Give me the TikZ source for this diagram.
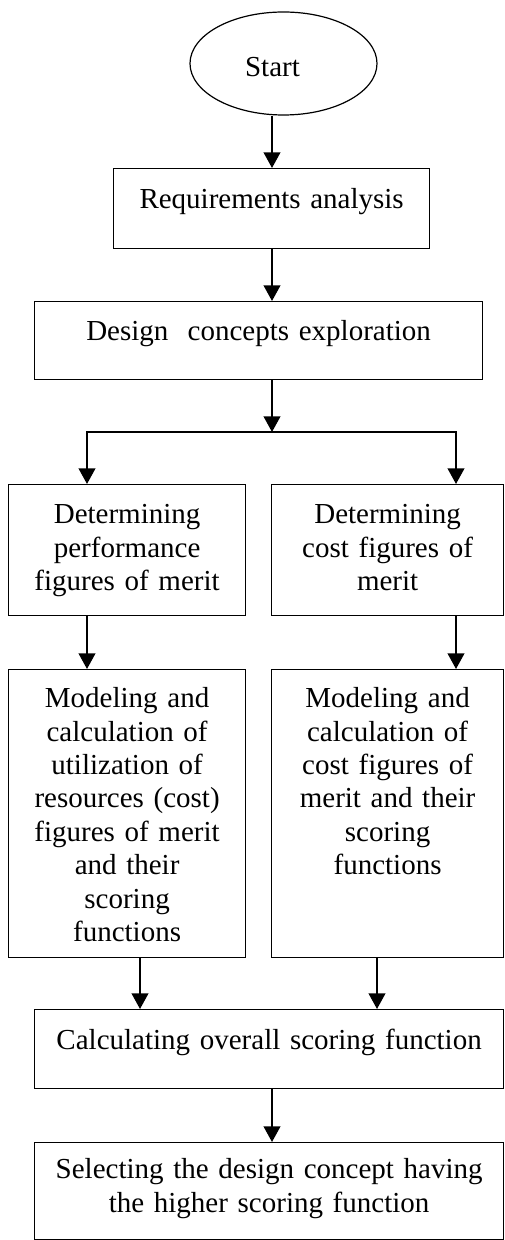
\documentclass[tikz,border=0pt]{standalone}
\usepackage{fontspec}
\setmainfont{Liberation Serif}
\usetikzlibrary{shapes.geometric, arrows.meta}

\begin{document}
\begin{tikzpicture}[x=0.5pt, y=-0.5pt, >={Triangle[width=8.3pt,length=7.8pt]}, font=\fontsize{14.5}{16.7}\selectfont]
    \tikzstyle{box}=[draw, line width=0.6pt, anchor=north west, align=center, inner sep=0pt]
    \tikzstyle{arr}=[->, line width=1pt]

    \path[use as bounding box, clip] (0,0) rectangle (504,1240);

    \node[ellipse, draw, line width=0.6pt, minimum width=93.5pt, minimum height=51.5pt, inner sep=0pt, text height=13.5pt, text depth=0pt] at (283.5, 63.5) (start) {Start\hspace*{11pt}};

    \node[box, text width=158pt, text height=20pt, text depth=20pt] at (113, 168) (req) {Requirements analysis};
    \node[box, text width=224pt, text height=19.5pt, text depth=19.5pt] at (34, 301) (design) {Design\ \ concepts exploration};

    \node[box, text width=118.5pt, text height=19.5pt, text depth=46pt] at (8, 484) (detperf) {Determining\\ performance\\ figures of merit};
    \node[box, text width=116pt, text height=19.5pt, text depth=46pt] at (271, 484) (detcost) {Determining\\ cost figures of\\ merit};

    \node[box, text width=118.5pt, text height=19pt, text depth=125pt] at (8, 669) (modperf) {Modeling and\\ calculation of\\ utilization of\\ resources (cost)\\ figures of merit\\ and their\\ scoring\\ functions};
    \node[box, text width=116pt, text height=19pt, text depth=125pt] at (271, 669) (modcost) {Modeling and\\ calculation of\\ cost figures of\\ merit and their\\ scoring\\ functions};

    \node[box, text width=234.5pt, text height=20pt, text depth=19.5pt] at (34, 1009) (calc) {Calculating overall scoring function};
    \node[box, text width=234.5pt, text height=18pt, text depth=30.3pt] at (34, 1142) (select) {Selecting the design concept having\\ the higher scoring function};

    % split and join points
    \coordinate (split) at (272, 432);
    \coordinate (splitL) at (87, 432);
    \coordinate (splitR) at (456, 432);
    \coordinate (joinL) at (140, 1009);
    \coordinate (joinR) at (377, 1009);

    \draw[arr] (start.south -| split) -- (req.north -| split);
    \draw[arr] (req.south -| split) -- (design.north -| split);
    \draw[arr] (design.south -| split) -- (split);
    \draw[arr] (split) -| (detperf.north -| splitL);
    \draw[arr] (split) -| (detcost.north -| splitR);
    \draw[arr] (detperf.south -| splitL) -- (modperf.north -| splitL);
    \draw[arr] (detcost.south -| splitR) -- (modcost.north -| splitR);
    \draw[arr] (modperf.south -| joinL) -- (joinL);
    \draw[arr] (modcost.south -| joinR) -- (joinR);
    \draw[arr] (calc.south -| split) -- (select.north -| split);
\end{tikzpicture}
\end{document}
